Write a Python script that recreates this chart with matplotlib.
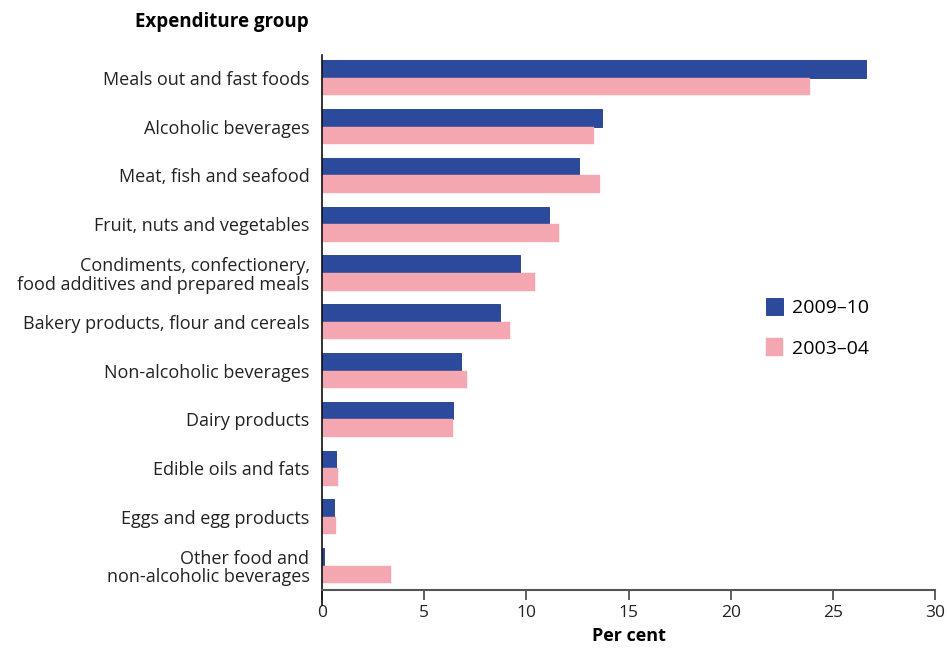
import matplotlib
matplotlib.use("Agg")
import matplotlib.pyplot as plt
import numpy as np

plt.rcParams['font.family'] = ['Open Sans', 'DejaVu Sans']

categories = [
    "Meals out and fast foods",
    "Alcoholic beverages",
    "Meat, fish and seafood",
    "Fruit, nuts and vegetables",
    "Condiments, confectionery,\nfood additives and prepared meals",
    "Bakery products, flour and cereals",
    "Non-alcoholic beverages",
    "Dairy products",
    "Edible oils and fats",
    "Eggs and egg products",
    "Other food and\nnon-alcoholic beverages",
]
v2009 = [26.6, 13.7, 12.6, 11.1, 9.7, 8.7, 6.8, 6.4, 0.7, 0.6, 0.1]
v2003 = [23.9, 13.3, 13.6, 11.6, 10.4, 9.2, 7.1, 6.4, 0.8, 0.7, 3.4]
series_labels = ["2009\u201310", "2003\u201304"]
xticks = [0, 5, 10, 15, 20, 25, 30]

blue = "#2B4A9B"
pink = "#F4A7B0"

fig = plt.figure(figsize=(9.47, 6.55), dpi=100)
ax = fig.add_axes([322/947, 1-590/655, (935-322)/947, (590-55)/655])

y = np.arange(len(categories))
h = 0.36
ax.barh(y - h/2, v2009, height=h, color=blue, edgecolor="#1F3A85", linewidth=0.6, label=series_labels[0])
ax.barh(y + h/2, v2003, height=h, color=pink, edgecolor=pink, linewidth=0.3, label=series_labels[1])

ax.set_ylim(len(categories) - 0.5, -0.47)
ax.set_xlim(0, 30)
ax.set_xticks(xticks)
ax.set_xticklabels([str(t) for t in xticks], fontsize=12.5, color="#222222")
ax.set_yticks(y)
ax.set_yticklabels(categories, fontsize=13, color="#222222", linespacing=1.05)
ax.tick_params(axis='y', length=0, pad=9)
ax.tick_params(axis='x', length=7, width=1.2, color="#444444", direction='out', pad=4)

for s in ['top', 'right']:
    ax.spines[s].set_visible(False)
ax.spines['left'].set_color("#111111")
ax.spines['left'].set_linewidth(1.2)
ax.spines['bottom'].set_color("#555555")
ax.spines['bottom'].set_linewidth(1.5)
ax.spines['left'].set_bounds(len(categories) - 0.5 + 0.3, -0.47)

ax.set_xlabel("Per cent", fontsize=13, fontweight='bold', labelpad=4)

fig.text(135/947, 1-22/655, "Expenditure group", fontsize=13.5, fontweight='bold',
         ha='left', va='center')

leg = ax.legend(loc='upper left', bbox_to_anchor=(748/947, 1-280/655),
                bbox_transform=fig.transFigure, frameon=False, fontsize=14,
                handlelength=0.9, handleheight=1.0, labelspacing=1.1, handletextpad=0.45)

fig.savefig("out.png", dpi=100)
